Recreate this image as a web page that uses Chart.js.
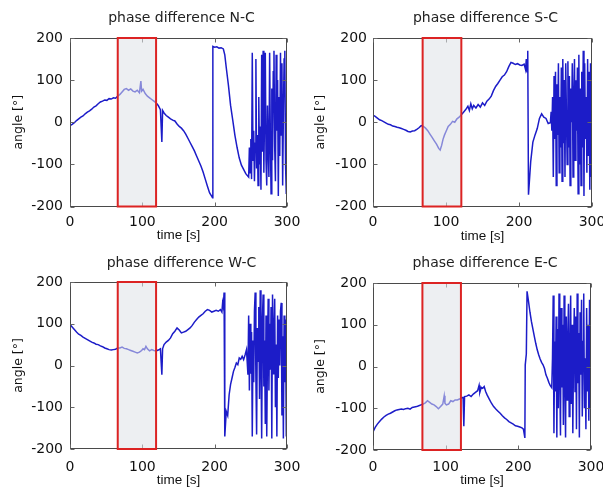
<!DOCTYPE html>
<html><head><meta charset="utf-8">
<script src="https://cdn.jsdelivr.net/npm/chart.js@4.4.1/dist/chart.umd.min.js"></script>
<style>
html,body{margin:0;padding:0;background:#fff;}
body{width:603px;height:495px;position:relative;overflow:hidden;}
canvas{position:absolute;}
</style></head><body>
<canvas id="c0" style="left:0px;top:0px" width="302" height="250"></canvas>
<canvas id="c1" style="left:300px;top:0px" width="303" height="250"></canvas>
<canvas id="c2" style="left:0px;top:245px" width="302" height="250"></canvas>
<canvas id="c3" style="left:300px;top:245px" width="303" height="250"></canvas>
<script>
// ---------- data ----------
const xTicks = [0, 100, 200, 300];
const yTicks = [-200, -100, 0, 100, 200];
const panelTitles = ['phase difference N-C', 'phase difference S-C', 'phase difference W-C', 'phase difference E-C'];
const xLabel = 'time [s]';
const yLabel = 'angle [°]';

// highlighted analysis window [start, end] in s
const windowNC = [66, 119];
const windowSC = [68, 121];
const windowWC = [66, 119];
const windowEC = [68, 121];

// time stamps of the oscillating burst at the end (all panels)
const burstTime = [247,248,249,250,251,252,253,254,255,256,257,258,259,260,261,262,263,264,265,266,
  267,268,269,270,271,272,273,274,275,276,277,278,279,280,281,282,283,284,285,286,
  287,288,289,290,291,292,293,294,295,296,297,298,299,300];

// N-C
const ncTime = [0,3,6,9,12,15,18,21,24,27,30,33,36,39,42,45,48,51,54,57,60,63,66,
  69,72,75,78,81,84,87,90,93,96,
  98,99,101,104,107,110,113,116,119,122,125,
  127,128,
  130,133,136,139,142,145,148,151,154,157,160,163,166,169,172,175,178,181,184,187,190,193,196,
  197,197.5,
  200,203,206,209,212,
  214,216,
  219,222,225,228,231,234,237,240,243,246];
const ncAngle = [-8,-5,-1,4,8,12,15,20,24,27,31,36,39,44,48,50,53,52,56,55,58,57,62,
  66,72,78,80,76,79,74,72,76,70,
  98,74,78,68,62,58,54,50,46,40,30,
  -47,28,
  22,16,12,8,5,3,-4,-10,-14,-20,-28,-38,-48,-58,-68,-80,-92,-104,-118,-135,-152,-168,-176,
  -179,180,
  178,179,176,177,174,
  160,130,
  88,40,5,-31,-60,-85,-102,-112,-122,-128];
const ncBurst = [-130,-60,-120,-40,-135,165,-90,-20,-140,-50,
  150,-110,-30,-150,60,-100,-10,-160,160,-70,
  170,-120,20,165,-90,-150,40,-60,-130,165,
  -40,-170,80,-90,120,170,-60,-140,160,-20,
  100,-175,60,-80,165,-30,140,-150,20,150,
  170,-100,-170,-140];

// S-C
const scTime = [0,3,6,9,12,15,18,21,24,27,30,33,36,39,42,45,48,51,54,57,60,63,66,
  69,72,75,78,81,84,87,90,
  92,94,96,98,100,
  103,106,109,112,115,118,121,124,127,130,
  132,134,136,138,
  141,144,147,150,153,156,159,162,165,168,171,174,177,180,183,186,189,192,195,198,201,204,207,
  209,210,211,212,213,
  216,219,222,225,228,231,234,237,240,243,
  244,245,246];
const scAngle = [17,14,10,6,4,1,-2,-5,-6,-9,-10,-12,-13,-15,-17,-19,-22,-23,-21,-20,-17,-13,-8,
  -10,-14,-20,-28,-36,-44,-52,-62,
  -66,-55,-40,-30,-22,
  -10,-5,2,0,8,12,18,24,30,38,
  28,44,32,40,
  34,42,36,46,40,50,55,62,75,85,92,100,108,112,120,132,142,140,137,139,136,135,138,
  125,150,120,170,-172,
  -94,-47,-30,-15,9,20,12,9,-3,-1,
  25,-20,60];
const scBurst = [-130,110,-40,120,-150,90,-30,140,-120,60,
  -60,130,-140,150,-50,100,-130,140,20,-100,
  145,-60,110,-150,80,0,140,-130,60,150,
  -90,100,-20,130,-170,160,-100,80,-150,120,
  -60,170,-175,140,-40,60,-120,150,-80,120,
  -160,140,-130,130];

// W-C
const wcTime = [0,3,6,9,12,15,18,21,24,27,30,33,36,39,42,45,48,51,54,57,60,63,66,69,72,75,78,81,84,87,90,93,96,99,
  101,103,105,107,
  110,113,116,119,122,125,
  127,128,
  130,133,136,139,142,145,148,151,154,157,160,163,166,169,172,175,178,181,184,187,190,193,196,199,202,205,208,
  210,211,212,213,214,
  216,218,220,222,224,226,228,230,232,234,236,238,240,242,244,246];
const wcAngle = [98,92,86,80,75,72,68,65,62,59,56,54,51,50,47,45,42,40,38,37,38,39,42,42,44,41,40,38,36,34,32,30,32,36,
  40,38,46,40,
  35,38,36,35,37,40,
  -22,40,
  50,56,60,66,76,82,90,85,78,80,82,86,90,96,104,110,116,120,124,130,134,132,128,130,132,130,134,
  128,150,140,175,-170,
  -110,-120,-70,-45,-30,-14,-5,6,2,18,15,22,14,25,38,-22];
const wcBurst = [120,-60,100,-20,80,-170,60,-40,130,175,
  -30,-165,90,10,140,-80,180,20,-175,110,
  170,-50,60,-140,120,-170,30,160,-60,100,
  -10,140,-175,170,-20,80,160,-100,50,-170,
  120,-30,110,0,130,150,-120,70,-175,120,
  -40,110,-170,100];

// E-C
const ecTime = [0,3,6,9,12,15,18,21,24,27,30,33,36,39,42,45,48,51,54,57,60,63,66,69,72,75,78,81,84,87,90,93,96,
  98,99,101,104,107,110,113,116,119,122,124,125,126,
  129,132,135,138,141,144,
  146,147,149,151,153,155,157,
  160,163,166,169,172,175,178,181,184,187,190,193,196,199,202,205,
  207,209,209.5,211,212,
  214,216,218,220,222,224,226,228,230,232,234,236,238,240,242,244,246];
const ecAngle = [-157,-146,-138,-132,-126,-121,-117,-114,-112,-109,-106,-104,-103,-102,-103,-101,-100,-102,-98,-97,-96,-94,-92,-90,-87,-82,-86,-90,-92,-96,-101,-96,-90,
  -70,-88,-92,-90,-82,-84,-80,-80,-78,-75,-74,-143,-72,
  -71,-68,-72,-66,-62,-58,
  -45,-62,-50,-52,-48,-60,-68,
  -78,-88,-96,-102,-107,-112,-118,-123,-127,-132,-135,-138,-142,-143,-145,-147,
  -150,-171,4,30,180,
  156,130,108,90,72,55,40,28,18,10,4,-5,-20,-28,-38,-46,-51];
const ecBurst = [20,170,-160,60,-60,120,-170,90,-100,175,
  -20,-165,140,-50,100,-140,170,-30,-170,120,
  -80,60,150,-120,30,170,-90,100,-160,40,
  140,-60,120,-150,175,-40,80,-170,130,-20,
  160,-120,60,175,-100,20,-150,140,-60,100,
  -130,160,-100,150];

// ---------- drawing ----------
const overlayPlugin = {
  id: 'overlay',
  afterDatasetsDraw(chart) {
    const o = chart.options.plugins.overlay;
    const { ctx, chartArea: a, scales: { x, y } } = chart;
    ctx.save();
    // frame
    ctx.strokeStyle = '#4a4a4a';
    ctx.lineWidth = 1;
    const L = Math.round(a.left) + 0.5, R = Math.round(a.right) - 0.5;
    const T = Math.round(a.top) + 0.5, B = Math.round(a.bottom) - 0.5;
    ctx.strokeRect(L, T, R - L, B - T);
    // inward ticks on all sides
    ctx.strokeStyle = '#666';
    ctx.beginPath();
    xTicks.forEach(v => {
      const px = Math.round(x.getPixelForValue(v)) + 0.5;
      ctx.moveTo(px, B); ctx.lineTo(px, B - 4);
      ctx.moveTo(px, T); ctx.lineTo(px, T + 4);
    });
    yTicks.forEach(v => {
      const py = Math.round(y.getPixelForValue(v)) + 0.5;
      ctx.moveTo(L, py); ctx.lineTo(L + 4, py);
      ctx.moveTo(R, py); ctx.lineTo(R - 4, py);
    });
    ctx.stroke();
    // highlighted window
    const x0 = x.getPixelForValue(o.window[0]);
    const x1 = x.getPixelForValue(o.window[1]);
    const yT = y.getPixelForValue(200);
    const yB = y.getPixelForValue(-200);
    ctx.fillStyle = 'rgba(222,226,232,0.55)';
    ctx.fillRect(x0, yT, x1 - x0, yB - yT);
    ctx.strokeStyle = '#dc2323';
    ctx.lineWidth = 2;
    ctx.strokeRect(x0, yT, x1 - x0, yB - yT);
    // panel title, centred over the plot area
    ctx.fillStyle = '#222';
    ctx.font = '14px "DejaVu Sans"';
    ctx.textAlign = 'center';
    ctx.textBaseline = 'middle';
    ctx.fillText(o.title, (a.left + a.right) / 2 + 3, o.titleY);
    ctx.restore();
  }
};

function makePanel(id, p) {
  const times = p.time.concat(burstTime);
  const angles = p.angle.concat(p.burst);
  const pts = times.map((t, i) => ({ x: t, y: angles[i] }));
  new Chart(document.getElementById(id), {
    type: 'line',
    data: { datasets: [{ data: pts, borderColor: '#1c1cc8', borderWidth: 1.5, pointRadius: 0, tension: 0, fill: false }] },
    options: {
      responsive: false, animation: false, events: [],
      layout: { padding: { left: 0, right: p.padRight, top: p.top, bottom: 0 } },
      plugins: {
        legend: { display: false }, tooltip: { enabled: false }, title: { display: false },
        overlay: { window: p.window, title: p.title, titleY: p.titleY }
      },
      scales: {
        x: {
          type: 'linear', min: 0, max: 300,
          afterBuildTicks: s => { s.ticks = xTicks.map(v => ({ value: v })); },
          ticks: { color: '#111', padding: p.xTickPad, maxRotation: 0, font: { family: 'DejaVu Sans', size: 14 } },
          grid: { display: false, drawTicks: false }, border: { display: false },
          title: { display: true, text: xLabel, color: '#111', font: { family: 'Liberation Sans', size: 13.5 },
            padding: { top: 0, bottom: p.xTitlePad } },
          afterFit: s => { s.height = p.xAxisH; s.paddingLeft = 0; s.paddingRight = 0; }
        },
        y: {
          type: 'linear', min: -200, max: 200,
          afterBuildTicks: s => { s.ticks = yTicks.map(v => ({ value: v })); },
          ticks: { color: '#111', padding: p.yTickPad, font: { family: 'DejaVu Sans', size: 14 } },
          grid: { display: false, drawTicks: false }, border: { display: false },
          title: { display: true, text: yLabel, color: '#111', font: { family: 'DejaVu Sans', size: 12.5 },
            padding: { top: p.yTitlePad, bottom: 0 } },
          afterFit: s => { s.width = p.yAxisW; s.paddingTop = 0; s.paddingBottom = 0; }
        }
      }
    },
    plugins: [overlayPlugin]
  });
}

makePanel('c0', { title: panelTitles[0], time: ncTime, angle: ncAngle, burst: ncBurst, window: windowNC,
  padRight: 15, top: 38, titleY: 18, xAxisH: 43.5, xTickPad: 7, xTitlePad: 7, yAxisW: 70, yTickPad: 7, yTitlePad: 11 });
makePanel('c1', { title: panelTitles[1], time: scTime, angle: scAngle, burst: scBurst, window: windowSC,
  padRight: 11, top: 38, titleY: 18, xAxisH: 43.5, xTickPad: 7, xTitlePad: 6, yAxisW: 73, yTickPad: 6, yTitlePad: 13 });
makePanel('c2', { title: panelTitles[2], time: wcTime, angle: wcAngle, burst: wcBurst, window: windowWC,
  padRight: 15, top: 37, titleY: 18, xAxisH: 46, xTickPad: 10, xTitlePad: 7, yAxisW: 70, yTickPad: 7, yTitlePad: 11 });
makePanel('c3', { title: panelTitles[3], time: ecTime, angle: ecAngle, burst: ecBurst, window: windowEC,
  padRight: 12, top: 38, titleY: 18, xAxisH: 45, xTickPad: 9, xTitlePad: 7, yAxisW: 73, yTickPad: 6, yTitlePad: 13 });
</script>
</body></html>
